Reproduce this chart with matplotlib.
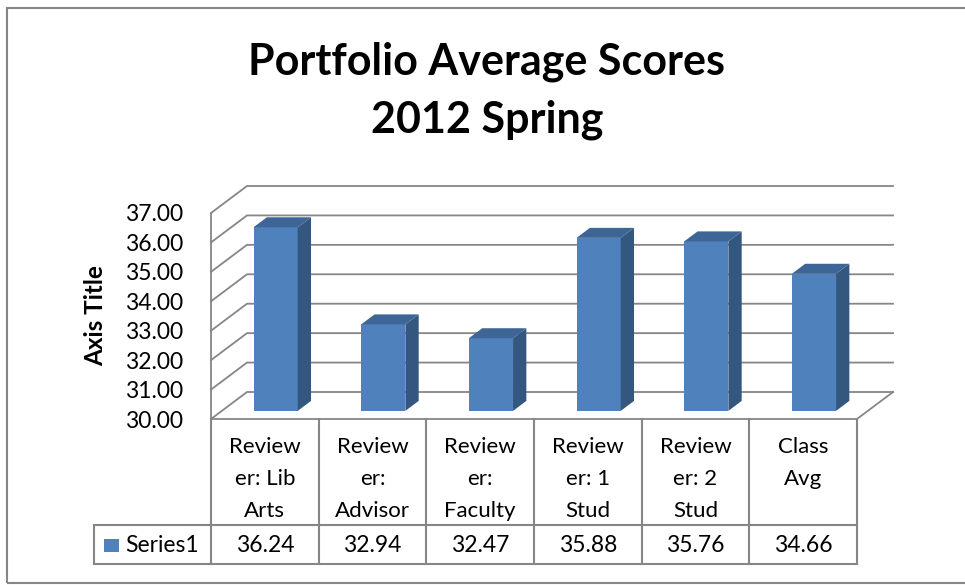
import matplotlib
matplotlib.use('Agg')
import matplotlib.pyplot as plt
from matplotlib.patches import Polygon, Rectangle
import matplotlib.transforms as mtransforms
import numpy as np

plt.rcParams['font.family'] = ['Lato', 'DejaVu Sans']

# 数据
categories = ['Review\ner: Lib\nArts', 'Review\ner:\nAdvisor', 'Review\ner:\nFaculty',
              'Review\ner: 1\nStud', 'Review\ner: 2\nStud', 'Class\nAvg']
scores = [36.24, 32.94, 32.47, 35.88, 35.76, 34.66]
y_ticks = [30, 31, 32, 33, 34, 35, 36, 37]
series_name = 'Series1'
title_lines = ['Portfolio Average Scores', '2012 Spring']
y_title = 'Axis Title'

W, H = 965, 585
grid_c = '#868686'
front_c = '#4f81bd'
side_c = '#34577f'
top_c = '#3d6596'

fig = plt.figure(figsize=(W / 100, H / 100), dpi=100)
# front plane of the 3d box, in pixels: x 211..857, y 213..419
ax = fig.add_axes([211 / W, 1 - 419 / H, 646 / W, 206 / H])
n = len(categories)
ax.set_xlim(0, n)
ax.set_ylim(y_ticks[0], y_ticks[-1])
for s in ax.spines.values():
    s.set_visible(False)
ax.set_xticks([])
ax.set_yticks(y_ticks)
ax.set_yticklabels(['%.2f' % t for t in y_ticks])
ax.tick_params(axis='y', length=0, pad=20, labelsize=16.5)
ax.set_ylabel(y_title, fontsize=17.5, fontweight='bold')
ax.yaxis.set_label_coords(-0.161, 0.5)
ax.patch.set_visible(False)

# depth offset (full depth) in data units
ox = 36 / (646 / n)
oy = 27 / (206 / (y_ticks[-1] - y_ticks[0]))
y0 = y_ticks[0]

# back wall + left wall gridlines
for g in y_ticks:
    ax.plot([0, ox, n + ox], [g, g + oy, g + oy], color=grid_c, lw=1.3,
            clip_on=False, solid_joinstyle='miter')
ax.plot([0, 0], [y0, y_ticks[-1]], color=grid_c, lw=1.3, clip_on=False)
ax.plot([0, n, n + ox], [y0, y0, y0 + oy], color=grid_c, lw=1.3, clip_on=False)

# 3d columns
d1, d2 = 0.30, 0.67
bw = 0.41
for i, v in enumerate(scores):
    x0 = i + 0.5 - bw / 2 + d1 * ox
    yb = y0 + d1 * oy
    yt = v + d1 * oy
    sx, sy = (d2 - d1) * ox, (d2 - d1) * oy
    ax.add_patch(Rectangle((x0, yb), bw, v - y0, facecolor=front_c,
                           edgecolor='none', clip_on=False, zorder=3))
    ax.add_patch(Polygon([(x0 + bw, yb), (x0 + bw + sx, yb + sy),
                          (x0 + bw + sx, yt + sy), (x0 + bw, yt)],
                         closed=True, facecolor=side_c, edgecolor='none',
                         clip_on=False, zorder=3))
    ax.add_patch(Polygon([(x0, yt), (x0 + bw, yt), (x0 + bw + sx, yt + sy),
                          (x0 + sx, yt + sy)],
                         closed=True, facecolor=top_c, edgecolor='none',
                         clip_on=False, zorder=3))

# data table under the plot (x in data, y in axes fraction)
tr = mtransforms.blended_transform_factory(ax.transData, ax.transAxes)


def ypx(p):
    return (419 - p) / 206


row_mid, row_bot = ypx(525), ypx(564)
leg_left = -(211 - 94) / (646 / n)
for k in range(n + 1):
    ax.plot([k, k], [0, row_bot], color=grid_c, lw=1.5, transform=tr, clip_on=False)
ax.plot([leg_left, n], [row_mid, row_mid], color=grid_c, lw=1.5, transform=tr, clip_on=False)
ax.plot([leg_left, n], [row_bot, row_bot], color=grid_c, lw=1.5, transform=tr, clip_on=False)
ax.plot([leg_left, leg_left], [row_mid, row_bot], color=grid_c, lw=1.5, transform=tr, clip_on=False)

baselines = [453, 485, 517]
for i, cat in enumerate(categories):
    for k, line in enumerate(cat.split('\n')):
        ax.text(i + 0.5, ypx(baselines[k]), line, transform=tr, ha='center',
                va='baseline', fontsize=16)
    ax.text(i + 0.5, ypx(545), '%.2f' % scores[i], transform=tr, ha='center',
            va='center', fontsize=16.5)

# legend key in table
fig.patches.append(Rectangle((104 / W, 1 - 552 / H), 15 / W, 13 / H,
                             facecolor=front_c, edgecolor='none',
                             transform=fig.transFigure))
fig.text(125 / W, 1 - 545 / H, series_name, ha='left', va='center', fontsize=16.5)

# title
fig.text(487 / W, 1 - 75 / H, title_lines[0], ha='center', va='baseline',
         fontsize=31, fontweight='bold')
fig.text(487 / W, 1 - 133 / H, title_lines[1], ha='center', va='baseline',
         fontsize=31, fontweight='bold')

# chart border
fig.patches.append(Rectangle((7 / W, 1 - 583 / H), 970 / W, 575 / H, fill=False,
                             edgecolor=grid_c, lw=1.5, transform=fig.transFigure))

plt.savefig('out.png', dpi=100)
